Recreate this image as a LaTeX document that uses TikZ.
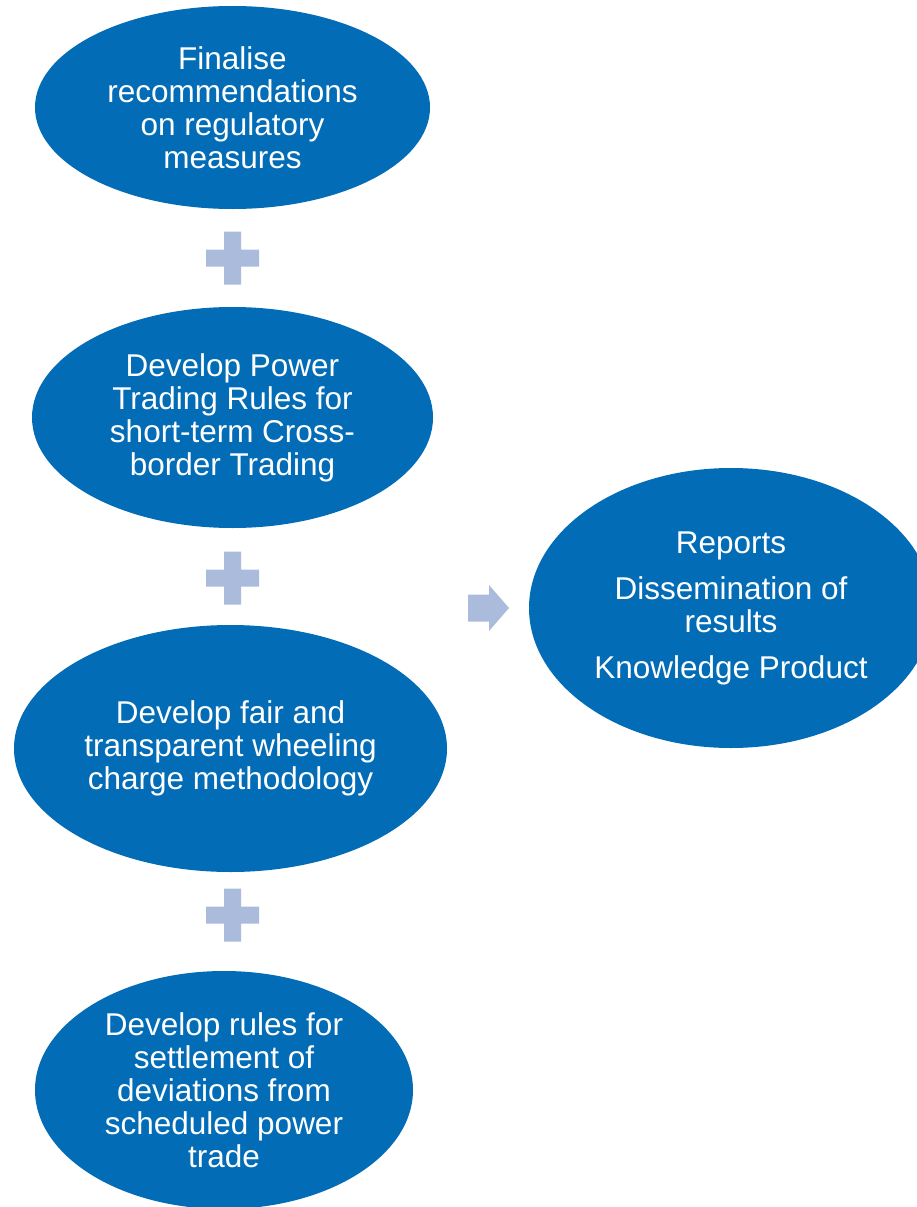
\documentclass[tikz,border=0pt]{standalone}
\usepackage{fontspec}
\setmainfont{Liberation Sans}
\usetikzlibrary{shapes.geometric,calc}
\definecolor{ovalblue}{RGB}{3,108,182}
\definecolor{signblue}{RGB}{170,187,220}
\tikzset{
  oval/.style={ellipse, fill=ovalblue, draw=none, inner sep=0pt, text=white, align=center,
    font=\fontsize{31.5}{33}\selectfont},
  sign/.style={fill=signblue, draw=none}
}
\begin{document}
\begin{tikzpicture}[x=1pt,y=-1pt]
\useasboundingbox (0,0) rectangle (917,1207);
\clip (0,0) rectangle (917,1207);
\node[oval, minimum width=395pt, minimum height=203pt] (n1) at (232.5,107.5)
  {Finalise\\recommendations\\on regulatory\\measures};
\node[oval, minimum width=401pt, minimum height=221pt] (n2) at (232.5,417.5)
  {Develop Power\\Trading Rules for\\short-term Cross-\\border Trading};
\node[oval, minimum width=433pt, minimum height=247pt] (n3) at (230.5,748.5)
  {Develop fair and\\transparent wheeling\\charge methodology};
\node[oval, minimum width=378pt, minimum height=238pt] (n4) at (224,1090)
  {Develop rules for\\settlement of\\deviations from\\scheduled power\\trade};
\node[oval, minimum width=404pt, minimum height=280pt] (out) at (731,608)
  {Reports\\[13pt]Dissemination of\\results\\[13pt]Knowledge Product};
% plus signs
\foreach \cy/\nm in {258/p1, 578/p2, 915/p3} {
  \coordinate (\nm) at (232.5,\cy);
  \fill[sign] ($(\nm)+(-8.5,-26.5)$) -- ++(17,0) -- ++(0,18) -- ++(18,0) -- ++(0,17)
    -- ++(-18,0) -- ++(0,18) -- ++(-17,0) -- ++(0,-18) -- ++(-18,0) -- ++(0,-17)
    -- ++(18,0) -- cycle;
}
% arrow
\coordinate (ar) at (468,608);
\fill[sign] ($(ar)+(0,-13.5)$) -- ++(21,0) -- ++(0,-9.5) -- ++(20,23) -- ++(-20,23)
  -- ++(0,-9.5) -- ++(-21,0) -- cycle;
\end{tikzpicture}
\end{document}
